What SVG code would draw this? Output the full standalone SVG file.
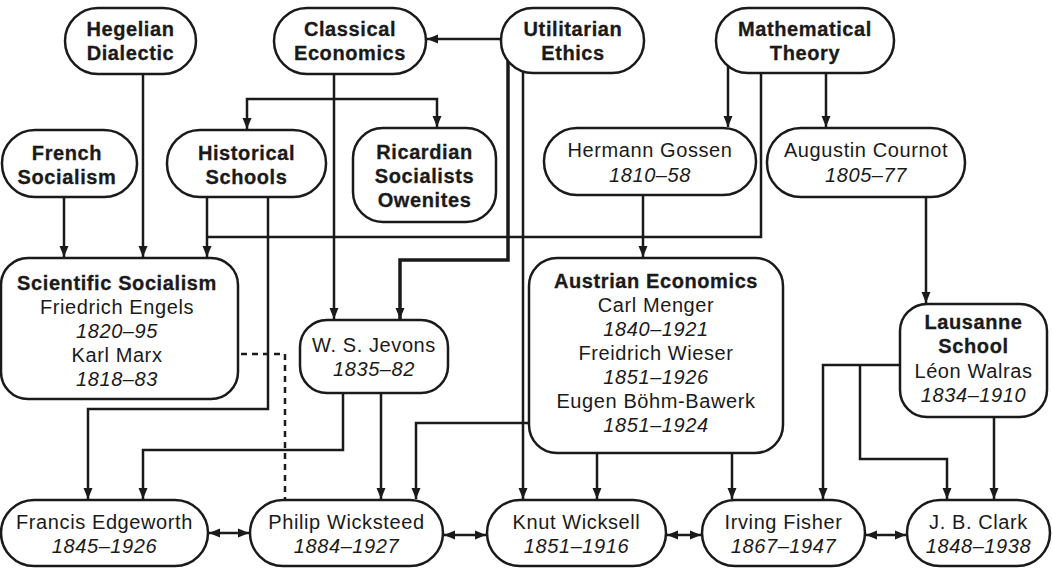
<svg xmlns="http://www.w3.org/2000/svg" width="1052" height="572" viewBox="0 0 1052 572">
<style>
.n{fill:#fff;stroke:#1a1a1a;stroke-width:2.5}
.c{fill:none;stroke:#1a1a1a;stroke-width:2.5}
.t{fill:none;stroke:#1a1a1a;stroke-width:3.5}
.d{fill:none;stroke:#1a1a1a;stroke-width:2.5;stroke-dasharray:6 5}
text{font-family:"Liberation Sans",Arial,sans-serif;font-size:20px;letter-spacing:0.6px;fill:#1a1a1a;text-anchor:middle}
.b{font-weight:bold;stroke:#1a1a1a;stroke-width:0.3}
.i{font-style:italic}
</style>
<defs>
<marker id="ah" markerUnits="userSpaceOnUse" markerWidth="12" markerHeight="12" viewBox="0 0 12 12" refX="11" refY="6" orient="auto-start-reverse">
<path d="M0,1.5 L11,6 L0,10.5 Z" fill="#1a1a1a"/>
</marker>
</defs>
<g id="connectors">
<path class="c" d="M502,39 H427" marker-end="url(#ah)"/>
<path class="c" d="M334,60 V319" marker-end="url(#ah)"/>
<path class="c" d="M247,129 V99 H437 V127" marker-start="url(#ah)" marker-end="url(#ah)"/>
<path class="c" d="M143,60 V257" marker-end="url(#ah)"/>
<path class="c" d="M64,180 V257" marker-end="url(#ah)"/>
<path class="c" d="M207,180 V257" marker-end="url(#ah)"/>
<path class="c" d="M761,60 V237 H207"/>
<path class="c" d="M268,180 V409 H88 V499" marker-end="url(#ah)"/>
<path class="t" d="M508,45 V260 H400 V319" marker-end="url(#ah)"/>
<path class="c" d="M523,50 V499" marker-end="url(#ah)"/>
<path class="c" d="M728,50 V127" marker-end="url(#ah)"/>
<path class="c" d="M826,60 V127" marker-end="url(#ah)"/>
<path class="c" d="M643,180 V257" marker-end="url(#ah)"/>
<path class="c" d="M926,180 V303" marker-end="url(#ah)"/>
<path class="d" d="M230,354 H285 V499"/>
<path class="c" d="M343,380 V450 H143 V499" marker-end="url(#ah)"/>
<path class="c" d="M381,380 V499" marker-end="url(#ah)"/>
<path class="c" d="M540,423 H416 V499" marker-end="url(#ah)"/>
<path class="c" d="M597,440 V499" marker-end="url(#ah)"/>
<path class="c" d="M732,440 V499" marker-end="url(#ah)"/>
<path class="c" d="M910,365 H823 V499" marker-end="url(#ah)"/>
<path class="c" d="M860,365 V459 H947 V499" marker-end="url(#ah)"/>
<path class="c" d="M994,405 V499" marker-end="url(#ah)"/>
<path class="c" d="M209,533 H249" marker-start="url(#ah)" marker-end="url(#ah)"/>
<path class="c" d="M444,535 H486" marker-start="url(#ah)" marker-end="url(#ah)"/>
<path class="c" d="M667,535 H701" marker-start="url(#ah)" marker-end="url(#ah)"/>
<path class="c" d="M866,535 H906" marker-start="url(#ah)" marker-end="url(#ah)"/>
</g>
<g id="hegelian"><rect class="n" x="65" y="8" width="131" height="66" rx="33"/><text class="b" x="130.5" y="36">Hegelian</text><text class="b" x="130.5" y="60">Dialectic</text></g>
<g id="classical"><rect class="n" x="274" y="8" width="152" height="66" rx="33"/><text class="b" x="350" y="36">Classical</text><text class="b" x="350" y="60">Economics</text></g>
<g id="utilitarian"><rect class="n" x="501" y="8" width="143" height="65" rx="32"/><text class="b" x="573" y="36">Utilitarian</text><text class="b" x="573" y="60">Ethics</text></g>
<g id="mathematical"><rect class="n" x="716" y="8" width="178" height="65" rx="32"/><text class="b" x="805" y="36">Mathematical</text><text class="b" x="805" y="60">Theory</text></g>
<g id="french"><rect class="n" x="2" y="130" width="135" height="67" rx="33"/><text class="b" x="67" y="160">French</text><text class="b" x="67" y="184">Socialism</text></g>
<g id="historical"><rect class="n" x="167" y="130" width="159" height="67" rx="33"/><text class="b" x="246.5" y="160">Historical</text><text class="b" x="246.5" y="184">Schools</text></g>
<g id="ricardian"><rect class="n" x="353" y="128" width="143" height="94" rx="30"/><text class="b" x="424.5" y="159">Ricardian</text><text class="b" x="424.5" y="183">Socialists</text><text class="b" x="424.5" y="207">Owenites</text></g>
<g id="gossen"><rect class="n" x="544" y="128" width="212" height="67" rx="33"/><text x="650" y="157">Hermann Gossen</text><text class="i" x="650" y="182">1810–58</text></g>
<g id="cournot"><rect class="n" x="767" y="128" width="198" height="69" rx="34"/><text x="866" y="157">Augustin Cournot</text><text class="i" x="866" y="182">1805–77</text></g>
<g id="scientific"><rect class="n" x="1" y="258" width="237" height="141" rx="27"/><text class="b" x="117" y="290">Scientific Socialism</text><text x="117" y="314">Friedrich Engels</text><text class="i" x="117" y="338">1820–95</text><text x="117" y="362">Karl Marx</text><text class="i" x="117" y="386">1818–83</text></g>
<g id="jevons"><rect class="n" x="300" y="320" width="148" height="73" rx="27"/><text x="374" y="352">W. S. Jevons</text><text class="i" x="374" y="376">1835–82</text></g>
<g id="austrian"><rect class="n" x="529" y="258" width="254" height="195" rx="28"/><text class="b" x="656" y="288">Austrian Economics</text><text x="656" y="312">Carl Menger</text><text class="i" x="656" y="336">1840–1921</text><text x="656" y="360">Freidrich Wieser</text><text class="i" x="656" y="384">1851–1926</text><text x="656" y="408">Eugen Böhm-Bawerk</text><text class="i" x="656" y="432">1851–1924</text></g>
<g id="lausanne"><rect class="n" x="900" y="304" width="147" height="113" rx="27"/><text class="b" x="973.5" y="329">Lausanne</text><text class="b" x="973.5" y="353">School</text><text x="973.5" y="378">Léon Walras</text><text class="i" x="973.5" y="402">1834–1910</text></g>
<g id="edgeworth"><rect class="n" x="1" y="500" width="207" height="66" rx="33"/><text x="104.5" y="529">Francis Edgeworth</text><text class="i" x="104.5" y="553">1845–1926</text></g>
<g id="wicksteed"><rect class="n" x="250" y="500" width="193" height="66" rx="33"/><text x="346.5" y="529">Philip Wicksteed</text><text class="i" x="346.5" y="553">1884–1927</text></g>
<g id="wicksell"><rect class="n" x="487" y="500" width="179" height="66" rx="33"/><text x="576.5" y="529">Knut Wicksell</text><text class="i" x="576.5" y="553">1851–1916</text></g>
<g id="fisher"><rect class="n" x="702" y="500" width="163" height="66" rx="33"/><text x="783.5" y="529">Irving Fisher</text><text class="i" x="783.5" y="553">1867–1947</text></g>
<g id="clark"><rect class="n" x="907" y="500" width="143" height="66" rx="33"/><text x="978.5" y="529">J. B. Clark</text><text class="i" x="978.5" y="553">1848–1938</text></g>
</svg>
